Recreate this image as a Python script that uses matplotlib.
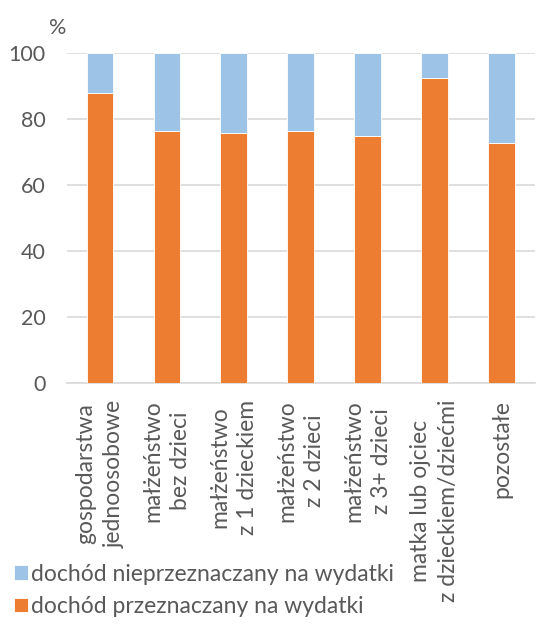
import matplotlib
matplotlib.use('Agg')
import matplotlib.pyplot as plt
import numpy as np

categories = ['gospodarstwa\njednoosobowe', 'małżeństwo\nbez dzieci', 'małżeństwo\nz 1 dzieckiem',
              'małżeństwo\nz 2 dzieci', 'małżeństwo\nz 3+ dzieci', 'matka lub ojciec\nz dzieckiem/dziećmi',
              'pozostałe']
spent = [88.1, 76.5, 75.7, 76.6, 74.9, 92.4, 72.7]
not_spent = [100 - v for v in spent]

plt.rcParams['font.family'] = ['Lato', 'DejaVu Sans']
grey = '#595959'

fig = plt.figure(figsize=(5.5, 6.24), dpi=100)
ax = fig.add_axes([66.5 / 550, 1 - 383.3 / 624, (535 - 66.5) / 550, (383.3 - 53.3) / 624])

x = np.arange(len(categories))
b1 = ax.bar(x, spent, width=0.4, color='#ED7D31', edgecolor='white', linewidth=0.6,
            label='dochód przeznaczany na wydatki', zorder=3)
b2 = ax.bar(x, not_spent, width=0.4, bottom=spent, color='#9DC3E6', edgecolor='white', linewidth=0.6,
            label='dochód nieprzeznaczany na wydatki', zorder=3)

ax.set_xlim(-0.5, len(categories) - 0.5)
ax.set_ylim(0, 100)
ax.set_yticks(np.arange(0, 101, 20))
ax.yaxis.grid(True, color='#D9D9D9', linewidth=1.2, zorder=0)
for s in ['top', 'right', 'left']:
    ax.spines[s].set_visible(False)
ax.spines['bottom'].set_color('#D9D9D9')
ax.spines['bottom'].set_linewidth(1.2)
ax.tick_params(axis='both', length=0, colors=grey, labelsize=15.5)
ax.tick_params(axis='y', pad=15)
ax.set_xticks(x)
ax.set_xticklabels(categories, rotation=90, ha='center', va='top', multialignment='center',
                   fontsize=16.5, color=grey, linespacing=1.4)
ax.tick_params(axis='x', pad=12)

fig.text(58 / 550, 1 - 28 / 624, '%', color=grey, fontsize=15.5, ha='center', va='center')

fig.legend(handles=[b2, b1], loc='lower left', bbox_to_anchor=(-0.012, -0.022), frameon=False,
           fontsize=16.5, labelcolor=grey, handlelength=0.6, handleheight=0.6, handletextpad=0.15,
           labelspacing=0.5)

fig.savefig('out.png', dpi=100)
